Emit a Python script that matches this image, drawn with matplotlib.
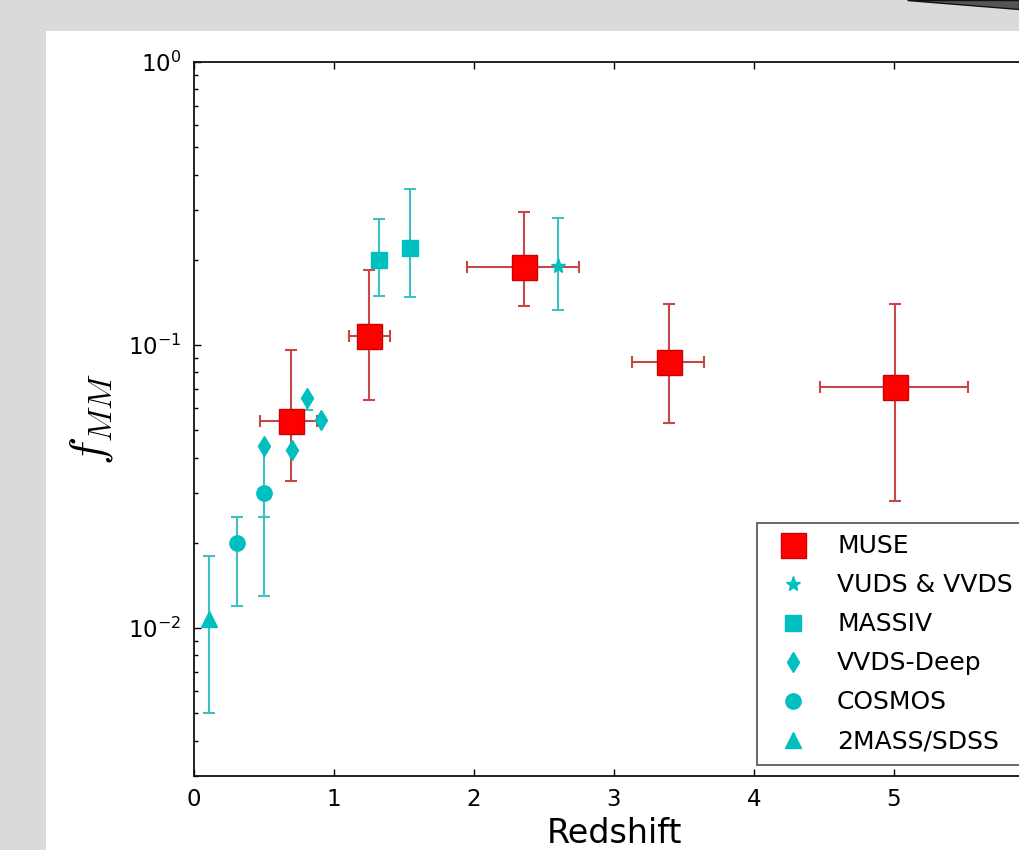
import matplotlib
matplotlib.use("Agg")
import matplotlib.pyplot as plt
from matplotlib.patches import Rectangle, Polygon

# ---------------- data ----------------
muse_z = [0.69, 1.25, 2.36, 3.39, 5.01]
muse_f = [0.054, 0.108, 0.188, 0.087, 0.071]
muse_f_lo = [0.033, 0.064, 0.137, 0.053, 0.028]
muse_f_hi = [0.096, 0.184, 0.296, 0.140, 0.140]
muse_z_lo = [0.47, 1.11, 1.95, 3.13, 4.47]
muse_z_hi = [0.88, 1.40, 2.75, 3.645, 5.53]

vuds_z = [2.60]
vuds_f = [0.190]
vuds_f_lo = [0.133]
vuds_f_hi = [0.282]

massiv_z = [1.32, 1.54]
massiv_f = [0.200, 0.220]
massiv_f_lo = [0.149, 0.148]
massiv_f_hi = [0.278, 0.355]

vvdsd_z = [0.50, 0.70, 0.81, 0.91]
vvdsd_f = [0.044, 0.0425, 0.065, 0.0545]
vvdsd_f_lo = [0.0247, 0.0425, 0.059, 0.0545]
vvdsd_f_hi = [0.044, 0.0425, 0.065, 0.0545]

cosmos_z = [0.31, 0.50]
cosmos_f = [0.020, 0.030]
cosmos_f_lo = [0.012, 0.013]
cosmos_f_hi = [0.0247, 0.030]

sdss_z = [0.11]
sdss_f = [0.0108]
sdss_f_lo = [0.005]
sdss_f_hi = [0.0179]

x_ticks = [0, 1, 2, 3, 4, 5]

RED = "#ff0000"
CYAN = "#00bfbf"
RED_ERR = "#c84848"
CYAN_ERR = "#40c0c0"


def asym(v, lo, hi):
    return [[a - b for a, b in zip(v, lo)], [c - a for a, c in zip(v, hi)]]


W, H = 1019, 850
fig = plt.figure(figsize=(W / 100, H / 100), dpi=100)
fig.patch.set_facecolor("#dadada")
fig.add_artist(Rectangle((46 / W, 0), 1, (H - 31) / H, transform=fig.transFigure,
                         facecolor="white", edgecolor="none", zorder=0))
fig.add_artist(Polygon([(907 / W, 1.0), (1.0, 1.0), (1.0, 1 - 9 / H)], closed=True,
                       transform=fig.transFigure, facecolor="#555555",
                       edgecolor="#111111", linewidth=1, zorder=1))

ax = fig.add_axes([194 / W, 1 - 776 / H, 840 / W, 714 / H])
ax.set_facecolor("white")

ekw = dict(fmt="none", capsize=4, elinewidth=1.5, capthick=1.5, zorder=2)
# error bars
ax.errorbar(muse_z, muse_f, yerr=asym(muse_f, muse_f_lo, muse_f_hi),
            xerr=asym(muse_z, muse_z_lo, muse_z_hi), ecolor=RED_ERR, **ekw)
ax.errorbar(vuds_z, vuds_f, yerr=asym(vuds_f, vuds_f_lo, vuds_f_hi), ecolor=CYAN_ERR, **ekw)
ax.errorbar(massiv_z, massiv_f, yerr=asym(massiv_f, massiv_f_lo, massiv_f_hi), ecolor=CYAN_ERR, **ekw)
ax.errorbar(vvdsd_z, vvdsd_f, yerr=asym(vvdsd_f, vvdsd_f_lo, vvdsd_f_hi), ecolor=CYAN_ERR, **ekw)
ax.errorbar(cosmos_z, cosmos_f, yerr=asym(cosmos_f, cosmos_f_lo, cosmos_f_hi), ecolor=CYAN_ERR, **ekw)
ax.errorbar(sdss_z, sdss_f, yerr=asym(sdss_f, sdss_f_lo, sdss_f_hi), ecolor=CYAN_ERR, **ekw)

# markers
ax.plot(muse_z, muse_f, ls="none", marker="s", ms=18, mfc=RED, mec="#d00000", mew=1,
        label="MUSE", zorder=4)
ax.plot(vuds_z, vuds_f, ls="none", marker="*", ms=11, mfc=CYAN, mec=CYAN,
        label="VUDS & VVDS", zorder=3)
ax.plot(massiv_z, massiv_f, ls="none", marker="s", ms=11, mfc=CYAN, mec=CYAN,
        label="MASSIV", zorder=3)
ax.plot(vvdsd_z, vvdsd_f, ls="none", marker="d", ms=10.5, mfc=CYAN, mec=CYAN,
        label="VVDS-Deep", zorder=3)
ax.plot(cosmos_z, cosmos_f, ls="none", marker="o", ms=11, mfc=CYAN, mec=CYAN,
        label="COSMOS", zorder=3)
ax.plot(sdss_z, sdss_f, ls="none", marker="^", ms=11, mfc=CYAN, mec=CYAN,
        label="2MASS/SDSS", zorder=3)

ax.set_yscale("log")
ax.set_xlim(0, 6)
ax.set_ylim(0.003, 1.0)
ax.set_xticks(x_ticks)
ax.tick_params(which="both", direction="in", top=True, right=True, labelsize=16.5)
ax.tick_params(which="major", length=5, width=1, pad=9)
ax.tick_params(which="minor", length=3, width=1)
for s in ax.spines.values():
    s.set_linewidth(1.3)
    s.set_color("#111111")

ax.set_xlabel("Redshift", fontsize=24)
ax.xaxis.set_label_coords(0.5, -0.058)
ax.set_ylabel(r"$f_{MM}$", fontsize=34, math_fontfamily="cm")
ax.yaxis.set_label_coords(-0.094, 0.5)

leg = ax.legend(loc="upper left", bbox_to_anchor=(757 / W, 1 - 523 / H),
                bbox_transform=fig.transFigure, borderaxespad=0, numpoints=1,
                fontsize=18, frameon=True, fancybox=False, borderpad=0.45,
                handlelength=1.95, handletextpad=0.8, labelspacing=0.6)
leg.get_frame().set_edgecolor("#222222")
leg.get_frame().set_linewidth(1.2)

fig.savefig("out.png", dpi=100, facecolor=fig.get_facecolor())
